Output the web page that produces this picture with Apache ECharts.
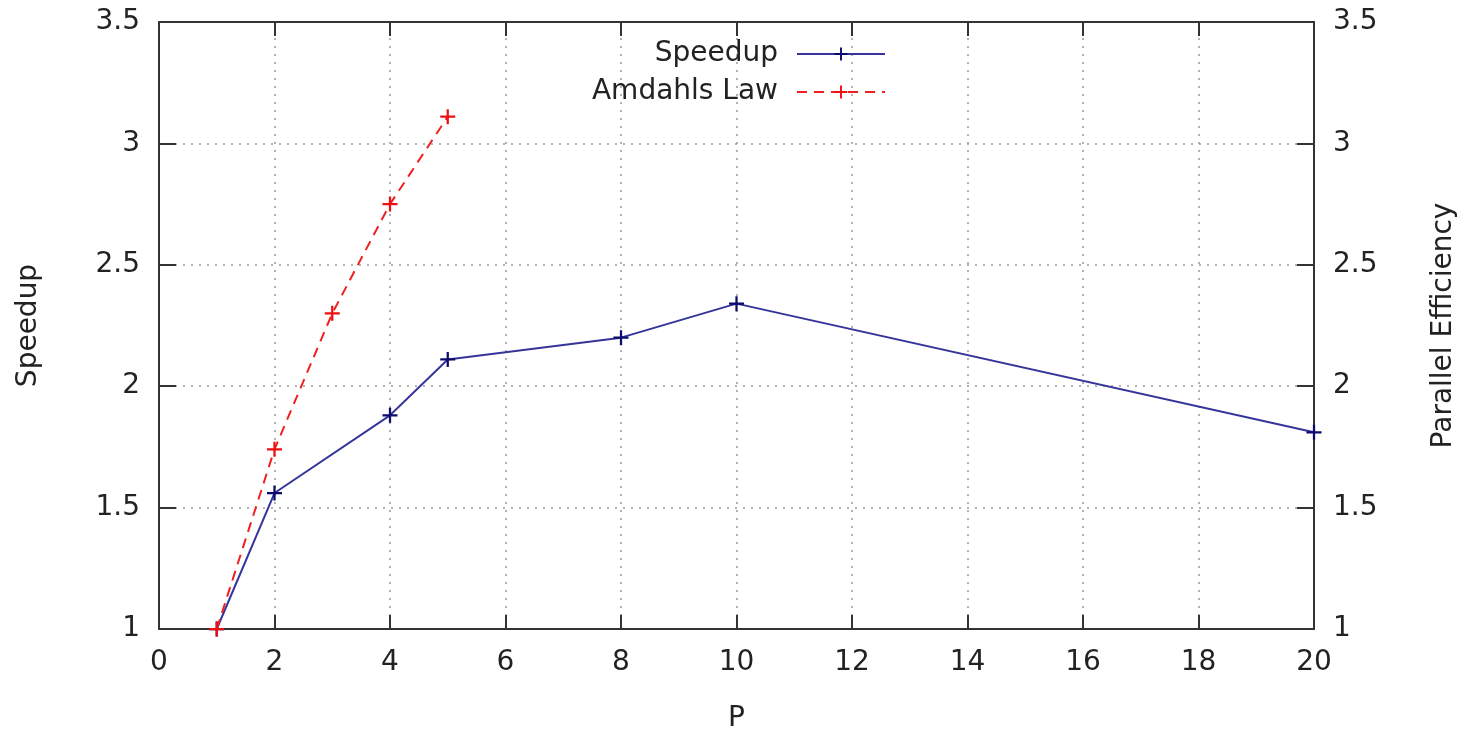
<!DOCTYPE html>
<html>
<head>
<meta charset="utf-8">
<script src="https://cdn.jsdelivr.net/npm/echarts@6/dist/echarts.min.js"></script>
<style>
  html, body { margin: 0; padding: 0; background: #fff; }
  #chart { width: 1466px; height: 732px; }
</style>
</head>
<body>
<div id="chart"></div>
<script>
// values
const procs = [1, 2, 4, 5, 8, 10, 20]
const speedup = [1.0, 1.56, 1.88, 2.11, 2.20, 2.34, 1.81]
const amdahlProcs = [1, 2, 3, 4, 5]
const amdahl = [1.0, 1.74, 2.30, 2.75, 3.11]

const plus = 'path://M0,4.25H10V5.75H0Z M4.25,0H5.75V10H4.25Z'
const font = 'DejaVu Sans'
const textColor = '#222'
const fs = 28

const chart = echarts.init(document.getElementById('chart'))

const yAxisBase = {
  type: 'value',
  min: 1,
  max: 3.5,
  interval: 0.5,
  nameLocation: 'middle',
  nameGap: 116,
  nameTextStyle: { fontFamily: font, fontSize: fs, color: textColor },
  axisLine: { show: true, onZero: false, lineStyle: { color: '#333', width: 2 } },
  axisTick: { show: true, inside: true, length: 17, lineStyle: { color: '#333', width: 2 } },
  axisLabel: { fontFamily: font, fontSize: fs, color: textColor, margin: 19 }
}

chart.setOption({
  animation: false,
  grid: { left: 159, right: 152, top: 22, bottom: 103, outerBoundsMode: 'none', containLabel: false },
  legend: [
    {
      data: ['Speedup'],
      right: 575,
      top: 35,
      align: 'right',
      itemWidth: 88,
      itemHeight: 16,
      textStyle: { fontFamily: font, fontSize: fs, color: textColor, padding: [0, 14, 0, 0] }
    },
    {
      data: ['Amdahls Law'],
      right: 575,
      top: 73,
      align: 'right',
      itemWidth: 88,
      itemHeight: 16,
      textStyle: { fontFamily: font, fontSize: fs, color: textColor, padding: [0, 14, 0, 0] }
    }
  ],
  xAxis: [
    {
      type: 'value',
      min: 0,
      max: 20,
      interval: 2,
      name: 'P',
      nameLocation: 'middle',
      nameGap: 76,
      nameTextStyle: { fontFamily: font, fontSize: fs, color: textColor },
      axisLine: { onZero: false, lineStyle: { color: '#333', width: 2 } },
      axisTick: { inside: true, length: 14, lineStyle: { color: '#333', width: 2 } },
      axisLabel: { fontFamily: font, fontSize: fs, color: textColor, margin: 20 },
      splitLine: { show: true, lineStyle: { color: '#999', type: [2, 6], width: 1.5 } }
    },
    {
      type: 'value',
      position: 'top',
      min: 0,
      max: 20,
      interval: 2,
      axisLine: { show: true, onZero: false, lineStyle: { color: '#333', width: 2 } },
      axisTick: { show: true, inside: true, length: 14, lineStyle: { color: '#333', width: 2 } },
      axisLabel: { show: false },
      splitLine: { show: false }
    }
  ],
  yAxis: [
    Object.assign({}, yAxisBase, {
      name: 'Speedup',
      position: 'left',
      splitLine: { show: true, lineStyle: { color: '#999', type: [2, 6], width: 1.5 } }
    }),
    Object.assign({}, yAxisBase, {
      name: 'Parallel Efficiency',
      position: 'right',
      splitLine: { show: false }
    })
  ],
  series: [
    {
      name: 'Speedup',
      type: 'line',
      data: procs.map((p, i) => [p, speedup[i]]),
      symbol: plus,
      symbolSize: 15,
      showAllSymbol: true,
      lineStyle: { color: '#35359a', width: 2 },
      itemStyle: { color: '#0b0b6e' }
    },
    {
      name: 'Amdahls Law',
      type: 'line',
      data: amdahlProcs.map((p, i) => [p, amdahl[i]]),
      symbol: plus,
      symbolSize: 15,
      showAllSymbol: true,
      lineStyle: { color: '#ee2020', width: 2, type: [10, 7] },
      itemStyle: { color: '#ee1010' }
    }
  ]
})
</script>
</body>
</html>
